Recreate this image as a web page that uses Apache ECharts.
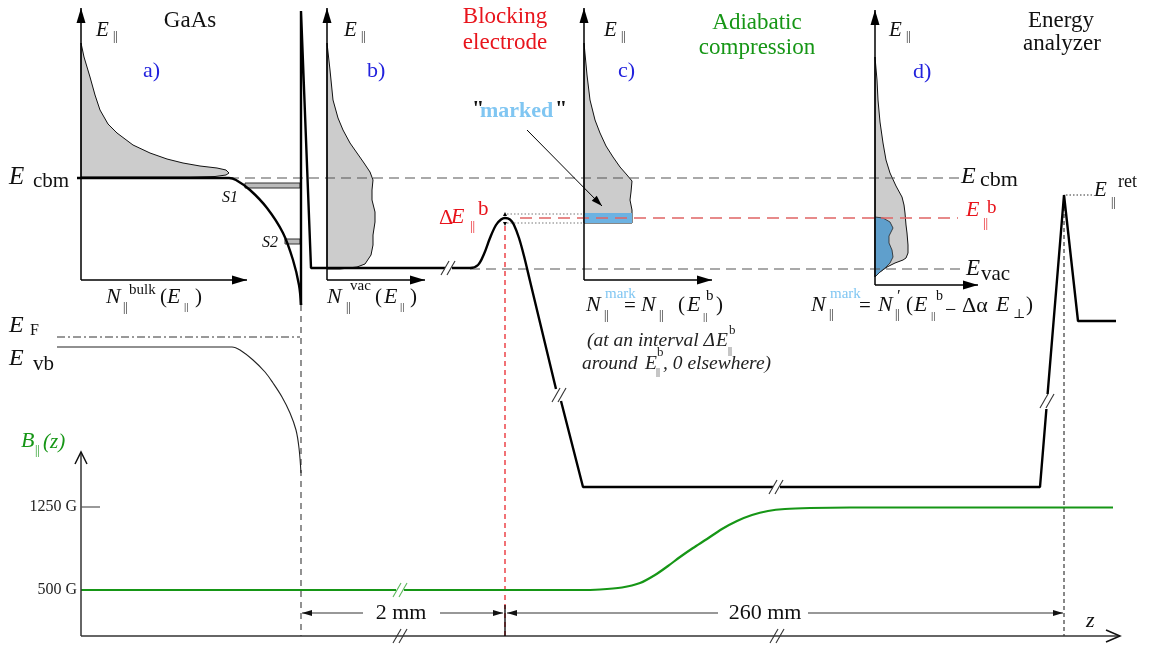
<!DOCTYPE html>
<html>
<head>
<meta charset="utf-8">
<title>Energy scheme - GaAs photocathode, blocking electrode, analyzer</title>
<script src="https://cdn.jsdelivr.net/npm/echarts@6.0.0/dist/echarts.min.js"></script>
<style>
  html, body { margin: 0; padding: 0; background: #fff; }
  #chart { width: 1149px; height: 646px; }
</style>
</head>
<body>
<div id="chart"></div>
<script>
/* Schematic drawn on a hidden value grid: x to the right, y downward (sheet units). */
const SERIF = '"Liberation Serif", "DejaVu Serif", serif';
const RED = '#e8141c', PINK = '#e06464', GREEN = '#169616', BLUE = '#2222dd', SKY = '#80c6f2', BLK = '#111';

// ---- energy profile along z ----
const cbmBand = [[77,178],[229,178],[236,180],[250,190],[267,208],[283,233],[293,260],[299,285],[301,305]];
const vbBand = [[57,347],[232,347],[240,350],[253,360],[265,372],[273,383],[282,397],[290,413],[296,430],[299,448],[301,473]];
const fermiLevel = [[57,337],[300,337]];
const surfaceSpike = [[301,305],[301,11],[311,268],[445,268]];
const blockingBarrier = [[452,268],[470,268],[478,265],[484,254],[490,238],[496,225],[501,219.5],[505,218],[510,219.5],[514,225],[519,238],[524,256],[530,281],[556,389]];
const driftDown = [[561,401],[583,487],[773,487]];
const driftFlat = [[780,487],[1040,487],[1046.4,409]];
const analyzerBarrier = [[1047.6,394],[1064,195],[1078,321],[1116,321]];

// ---- magnetic field B||(z) ----
const fieldLow = [[81,590],[396,590]];
const fieldRamp = [[404,590],[578,590],[600,589.5],[622,587.5],[640,583],[655,575],[668,566],[680,557],[693,548],[707,539],[722,529],[737,521],[752,515],[768,511],[785,509],[810,508],[850,507.5],[1113,507.5]];

// ---- energy distributions (outline of the shaded areas) ----
const distBulk = [[81,43],[84,57],[90,77],[95,95],[100,110],[108,124],[117,133],[133,145],[150,153],[167,159],[183,163],[200,166],[217,168],[226,170],[229,173],[226,175],[215,176.5],[190,177],[81,177]];
const distVac = [[327,43],[330,70],[333,100],[338,118],[343,130],[350,143],[357,153],[364,163],[370,172],[373,180],[372,190],[372,200],[375,212],[375,222],[373,235],[373,245],[371,255],[365,264],[357,267],[340,269],[327,269]];
const distC = [[584,43],[587,75],[590,100],[595,120],[600,133],[606,146],[613,157],[620,167],[627,175],[632,181],[631,192],[630,200],[632,210],[632,223],[584,223]];
const markedBandC = [[584,213],[632,213],[632,223],[584,223]];
const distD = [[875,57],[877,80],[878,100],[880,122],[883,143],[886,160],[890,173],[896,186],[902,197],[904,205],[905,213],[906,225],[907,233],[908,245],[908,253],[906,258],[903,260],[895,263],[887,267],[880,272],[875,277]];
const markedD = [[875,217],[883,218],[890,222],[893,228],[889,236],[889,243],[892,250],[893,257],[890,263],[885,268],[880,272],[875,277]];
const surfaceStates = [[[245,183],[300,183],[300,188],[245,188]], [[285,239],[300,239],[300,244],[285,244]]];

// ---- reference levels and guides ----
const cbmLevel = [[229,178],[960,178]];
const vacLevel = [[470,269],[965,269]];
const blockLevel = [[520,218],[958,218]];
const surfaceGuide = [[301,305],[301,636]];
const blockingGuide = [[505,226],[505,636]];
const analyzerGuide = [[1064,200],[1064,636]];
const windowTop = [[507,214],[585,214]];
const windowBottom = [[507,223],[585,223]];
const retLevel = [[1066,195],[1093,195]];

// ---- axes [from, tip] ----
const panelAxes = [
  [[81,280],[81,8]], [[81,280],[247,280]],
  [[327,280],[327,8]], [[327,280],[425,280]],
  [[584,280],[584,8]], [[584,280],[712,280]],
  [[875,285],[875,10]], [[875,285],[978,285]]
];
const fieldAxis = [[81,636],[81,452]];
const zAxis = [[81,636],[1120,636]];
const tick1250 = [[81,507],[100,507]];
const markedPointer = [[527,130],[602,206]];
const dims = [[[363,613],[302,613]], [[440,613],[503,613]], [[718,613],[507,613]], [[808,613],[1063,613]]];
const dimTick = [[505,605],[505,636]];
const windowArrows = [[[505,219],[505,212]], [[505,219],[505,226]]];

// break marks "//" [x, y, colour]
const breaks = [[448,268,'#333'],[559,395,'#333'],[776,487,'#333'],[1047,401,'#333'],[400,590,'#5cb85c'],[400,636,'#333'],[777,636,'#333']];

// labels [x, y, text, size, style, colour, align]
const labels = [
  [190,21,'GaAs',23,'n',BLK,'center'],
  [505,17,'Blocking',23,'n',RED,'center'],
  [505,43,'electrode',23,'n',RED,'center'],
  [757,23,'Adiabatic',23,'n',GREEN,'center'],
  [757,48,'compression',23,'n',GREEN,'center'],
  [1061,21,'Energy',23,'n',BLK,'center'],
  [1062,44,'analyzer',23,'n',BLK,'center'],
  [143,71,'a)',22,'n',BLUE], [367,71,'b)',22,'n',BLUE], [618,71,'c)',22,'n',BLUE], [913,72,'d)',22,'n',BLUE],
  [96,30,'E',21,'i'], [113,37,'||',12,'n'],
  [344,30,'E',21,'i'], [361,37,'||',12,'n'],
  [604,30,'E',21,'i'], [621,37,'||',12,'n'],
  [889,30,'E',21,'i'], [906,37,'||',12,'n'],
  [9,177,'E',25,'i'], [33,181,'cbm',21,'n'],
  [9,326,'E',24,'i'], [30,331,'F',16,'n'],
  [9,359,'E',24,'i'], [33,364,'vb',21,'n'],
  [961,177,'E',24,'i'], [980,180,'cbm',22,'n'],
  [966,210,'E',22,'i',RED], [983,224,'||',13,'n',RED], [987,208,'b',19,'n',RED],
  [966,269,'E',23,'i'], [981,274,'vac',21,'n'],
  [1094,190,'E',21,'i'], [1111,203,'||',12,'n'], [1118,182,'ret',18,'n'],
  [439,218,'Δ',22,'n',RED], [451,217,'E',22,'i',RED], [470,227,'||',13,'n',RED], [478,209,'b',21,'n',RED],
  [222,198,'S1',16,'i'], [262,243,'S2',16,'i'],
  [106,297,'N',22,'i'], [123,308,'||',12,'n'], [129,290,'bulk',15,'n'], [160,297,'(',21,'n'], [167,297,'E',22,'i'], [184,307,'||',11,'n'], [195,297,')',21,'n'],
  [327,297,'N',22,'i'], [346,308,'||',12,'n'], [350,286,'vac',15,'n'], [375,297,'(',21,'n'], [384,297,'E',22,'i'], [400,307,'||',11,'n'], [410,297,')',21,'n'],
  [586,305,'N',22,'i'], [604,316,'||',12,'n'], [605,294,'mark',15,'n',SKY], [624,306,'=',21,'n'], [641,305,'N',22,'i'], [659,316,'||',12,'n'],
  [678,305,'(',21,'n'], [687,305,'E',22,'i'], [703,317,'||',11,'n'], [706,296,'b',15,'n'], [716,305,')',21,'n'],
  [587,341,'(at an interval Δ',19.5,'i','#222'], [716,341,'E',19.5,'i','#222'], [728,351,'||',10,'n','#222'], [729,331,'b',13,'n','#222'],
  [582,364,'around',19.5,'i','#222'], [645,364,'E',19.5,'i','#222'], [656,372,'||',10,'n','#222'], [657,353,'b',13,'n','#222'], [663,364,', 0 elsewhere)',19.5,'i','#222'],
  [811,305,'N',22,'i'], [829,315,'||',12,'n'], [830,294,'mark',15,'n',SKY], [859,306,'=',21,'n'], [878,305,'N',22,'i'], [897,297,'′',17,'n'], [895,315,'||',12,'n'],
  [906,305,'(',21,'n'], [914,305,'E',22,'i'], [931,316,'||',11,'n'], [936,296,'b',14,'n'], [945,311,'−',20,'n'], [962,306,'Δα',22,'n'], [996,305,'E',22,'i'], [1013,315,'⊥',13,'n'], [1026,305,')',21,'n'],
  [21,441,'B',22,'i',GREEN], [35,451,'||',12,'n',GREEN], [43,442,'(z)',21,'i',GREEN],
  [77,507,'1250 G',16,'n','#222','right'], [77,590,'500 G',16,'n','#222','right'],
  [401,613,'2 mm',22,'n',BLK,'center'], [765,613,'260 mm',22,'n',BLK,'center'],
  [1086,621,'z',22,'i'],
  [472,109,'"',22,'b',BLK], [480,111,'marked',22,'b',SKY], [555,109,'"',22,'b',BLK]
];

function path(data, color, width, dash, smooth) {
  return { type: 'line', data: data, symbol: 'none', smooth: smooth || false, silent: true, animation: false, clip: false, z: 3,
    lineStyle: { color: color, width: width, type: dash || 'solid', cap: 'butt' } };
}

function arrowHead(api, from, tip, len, hw, color, open) {
  const a = api.coord(from), b = api.coord(tip);
  const dx = b[0] - a[0], dy = b[1] - a[1], L = Math.hypot(dx, dy) || 1, ux = dx / L, uy = dy / L;
  const bx = b[0] - ux * len, by = b[1] - uy * len;
  const p1 = [bx - uy * hw, by + ux * hw], p2 = [bx + uy * hw, by - ux * hw];
  if (open) return { type: 'polyline', shape: { points: [p1, b, p2] }, style: { stroke: color, lineWidth: 1.5, fill: null } };
  return { type: 'polygon', shape: { points: [b, p1, p2] }, style: { fill: color } };
}

const chart = echarts.init(document.getElementById('chart'), null, { renderer: 'canvas' });

const series = [];
// shaded distributions
series.push({
  type: 'custom', silent: true, animation: false, z: 1, data: [[0, 0]],
  renderItem: function (params, api) {
    const poly = (pts, fill, stroke, lw) => ({ type: 'polygon', shape: { points: pts.map(p => api.coord(p)) },
      style: { fill: fill, stroke: stroke, lineWidth: lw } });
    return { type: 'group', children: [
      poly(distBulk, '#cccccc', '#111', 1),
      poly(distVac, '#cccccc', '#111', 1),
      poly(distC, '#cccccc', '#111', 1),
      poly(markedBandC, '#6cb2e2', null, 0),
      poly(distD, '#cccccc', '#111', 1),
      poly(markedD, '#5f9fcc', '#222', 0.8),
      poly(surfaceStates[0], '#bbbbbb', '#333', 1),
      poly(surfaceStates[1], '#bbbbbb', '#333', 1)
    ] };
  }
});

// guides and levels
series.push(path(cbmLevel, '#555', 1.2, [10, 6]));
series.push(path(vacLevel, '#555', 1.2, [10, 6]));
series.push(path(blockLevel, PINK, 1.5, [12, 7]));
series.push(path(surfaceGuide, '#777', 1.6, [6, 5]));
series.push(path(blockingGuide, RED, 1.2, [5, 4]));
series.push(path(analyzerGuide, '#111', 1, [4, 3]));
series.push(path(windowTop, '#777', 1, [1.5, 2]));
series.push(path(windowBottom, '#777', 1, [1.5, 2]));
series.push(path(retLevel, '#333', 1, [1.5, 2]));
series.push(path(fermiLevel, '#333', 1, [8, 3, 2, 3]));

// band profile
series.push(path(cbmBand, '#000', 2.4, null, 0.35));
series.push(path(vbBand, '#222', 1.1, null, 0.35));
series.push(path(surfaceSpike, '#000', 2.4));
series.push(path(blockingBarrier, '#000', 2.4, null, 0.35));
series.push(path(driftDown, '#000', 2.4));
series.push(path(driftFlat, '#000', 2.4));
series.push(path(analyzerBarrier, '#000', 2.4));

// magnetic field
series.push(path(fieldLow, GREEN, 2.2));
series.push(path(fieldRamp, GREEN, 2.2, null, 0.3));

// axes and pointers
panelAxes.forEach(ax => series.push(path(ax, '#000', 1.5)));
series.push(path(fieldAxis, '#333', 1.5));
series.push(path(zAxis, '#333', 1.5));
series.push(path(tick1250, '#555', 1.2));
series.push(path(markedPointer, '#000', 1));
dims.forEach(d => series.push(path(d, '#333', 1.2)));
series.push(path(dimTick, '#000', 1.3));

// arrow heads and break marks
series.push({
  type: 'custom', silent: true, animation: false, z: 4, data: [[0, 0]],
  renderItem: function (params, api) {
    const kids = [];
    panelAxes.forEach(ax => kids.push(arrowHead(api, ax[0], ax[1], 15, 4.5, '#000')));
    kids.push(arrowHead(api, markedPointer[0], markedPointer[1], 11, 3.5, '#000'));
    dims.forEach(d => kids.push(arrowHead(api, d[0], d[1], 10, 3, '#111')));
    windowArrows.forEach(d => kids.push(arrowHead(api, d[0], d[1], 4, 2, '#000')));
    kids.push(arrowHead(api, fieldAxis[0], fieldAxis[1], 12, 6, '#111', true));
    kids.push(arrowHead(api, zAxis[0], zAxis[1], 14, 6, '#111', true));
    breaks.forEach(b => {
      const c = api.coord([b[0], b[1]]);
      [-3, 3].forEach(off => kids.push({ type: 'line',
        shape: { x1: c[0] + off - 4, y1: c[1] + 7, x2: c[0] + off + 4, y2: c[1] - 7 },
        style: { stroke: b[2], lineWidth: 1.1 } }));
    });
    return { type: 'group', children: kids };
  }
});

// text
series.push({
  type: 'custom', silent: true, animation: false, z: 5, data: [[0, 0]],
  renderItem: function (params, api) {
    return { type: 'group', children: labels.map(l => {
      const p = api.coord([l[0], l[1]]);
      const st = l[4] === 'i' ? 'italic ' : l[4] === 'b' ? 'bold ' : '';
      const al = l[6] || 'left';
      return { type: 'text', style: { x: p[0], y: p[1], text: l[2], font: st + l[3] + 'px ' + SERIF,
        fill: l[5] || BLK, align: al, textAlign: al, verticalAlign: 'middle', textVerticalAlign: 'middle' } };
    }) };
  }
});

chart.setOption({
  backgroundColor: '#fff',
  animation: false,
  grid: { left: 0, right: 0, top: 0, bottom: 0 },
  xAxis: { type: 'value', min: 0, max: 1149, show: false },
  yAxis: { type: 'value', min: 0, max: 646, inverse: true, show: false },
  series: series
});
</script>
</body>
</html>
